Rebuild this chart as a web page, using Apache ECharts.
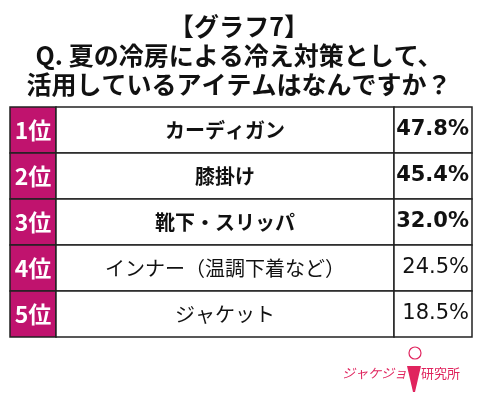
<!DOCTYPE html>
<html><head><meta charset="utf-8">
<script src="https://cdn.jsdelivr.net/npm/echarts@6/dist/echarts.min.js"></script>
<style>html,body{margin:0;padding:0;background:#fff}#c{width:478px;height:401px}</style>
</head><body><div id="c"></div>
<script>
const ranks = ['1位','2位','3位','4位','5位'];
const items = ['カーディガン','膝掛け','靴下・スリッパ','インナー（温調下着など）','ジャケット'];
const values = [47.8, 45.4, 32.0, 24.5, 18.5];
const boldRows = [true, true, true, false, false];

const JP = '"Noto Sans CJK JP", sans-serif';
const MAG = '#c0136e';
const chart = echarts.init(document.getElementById('c'), null, {renderer:'canvas'});

const data = ranks.map((r,i)=>[0, i]);

chart.setOption({
  backgroundColor:'#fff',
  animation:false,
  title:{
    text:'【グラフ7】\nQ. 夏の冷房による冷え対策として、\n活用しているアイテムはなんですか？',
    left:'center', top:7,
    textStyle:{fontFamily:JP, fontWeight:'bold', fontSize:25, lineHeight:29, color:'#111', align:'center'}
  },
  grid:{left:10, right:6, top:107, bottom:64},
  xAxis:{type:'value', min:0, max:1, show:false},
  yAxis:{type:'category', data:ranks, inverse:true, show:false},
  series:[{
    type:'custom',
    data:data,
    renderItem:function(params, api){
      const i = api.value(1);
      const cs = params.coordSys;
      const c = api.coord([0, i]);
      const h = api.size([0, 1])[1];
      const top = c[1] - h/2;
      const x0 = cs.x, w = cs.width;
      const x1 = x0 + 46, x2 = x0 + 384, x3 = x0 + w;
      const b = boldRows[i];
      const line = {stroke:'#222', lineWidth:1.5};
      return {type:'group', children:[
        {type:'rect', shape:{x:x0, y:top, width:x1-x0, height:h}, style:Object.assign({fill:MAG}, line)},
        {type:'rect', shape:{x:x1, y:top, width:x2-x1, height:h}, style:Object.assign({fill:'#fff'}, line)},
        {type:'rect', shape:{x:x2, y:top, width:x3-x2, height:h}, style:Object.assign({fill:'#fff'}, line)},
        {type:'text', x:(x0+x1)/2, y:c[1], style:{text:ranks[i], fill:'#fff', font:'bold 23px '+JP, align:'center', verticalAlign:'middle'}},
        {type:'text', x:(x1+x2)/2, y:c[1], style:{text:items[i], fill:'#111', font:(b?'bold ':'')+'20px '+JP, align:'center', verticalAlign:'middle'}},
        {type:'text', x:x3-3, y:c[1], style:{text:values[i].toFixed(1)+'%', fill:'#111', font:(b?'bold ':'')+'21px "DejaVu Sans", sans-serif', align:'right', verticalAlign:'middle'}}
      ]};
    }
  }],
  graphic:[
    {type:'text', left:342, top:367, style:{text:'ジャケジョ', fill:'#e0245e', font:'italic 13px '+JP}},
    {type:'text', left:421, top:367, style:{text:'研究所', fill:'#e0245e', font:'13px '+JP}},
    {type:'circle', shape:{cx:415, cy:353, r:6}, style:{fill:'none', stroke:'#e0245e', lineWidth:1.2}},
    {type:'polygon', shape:{points:[[407,366],[421,366],[415,392],[413,392]]}, style:{fill:'#e0245e'}}
  ]
});
</script></body></html>
